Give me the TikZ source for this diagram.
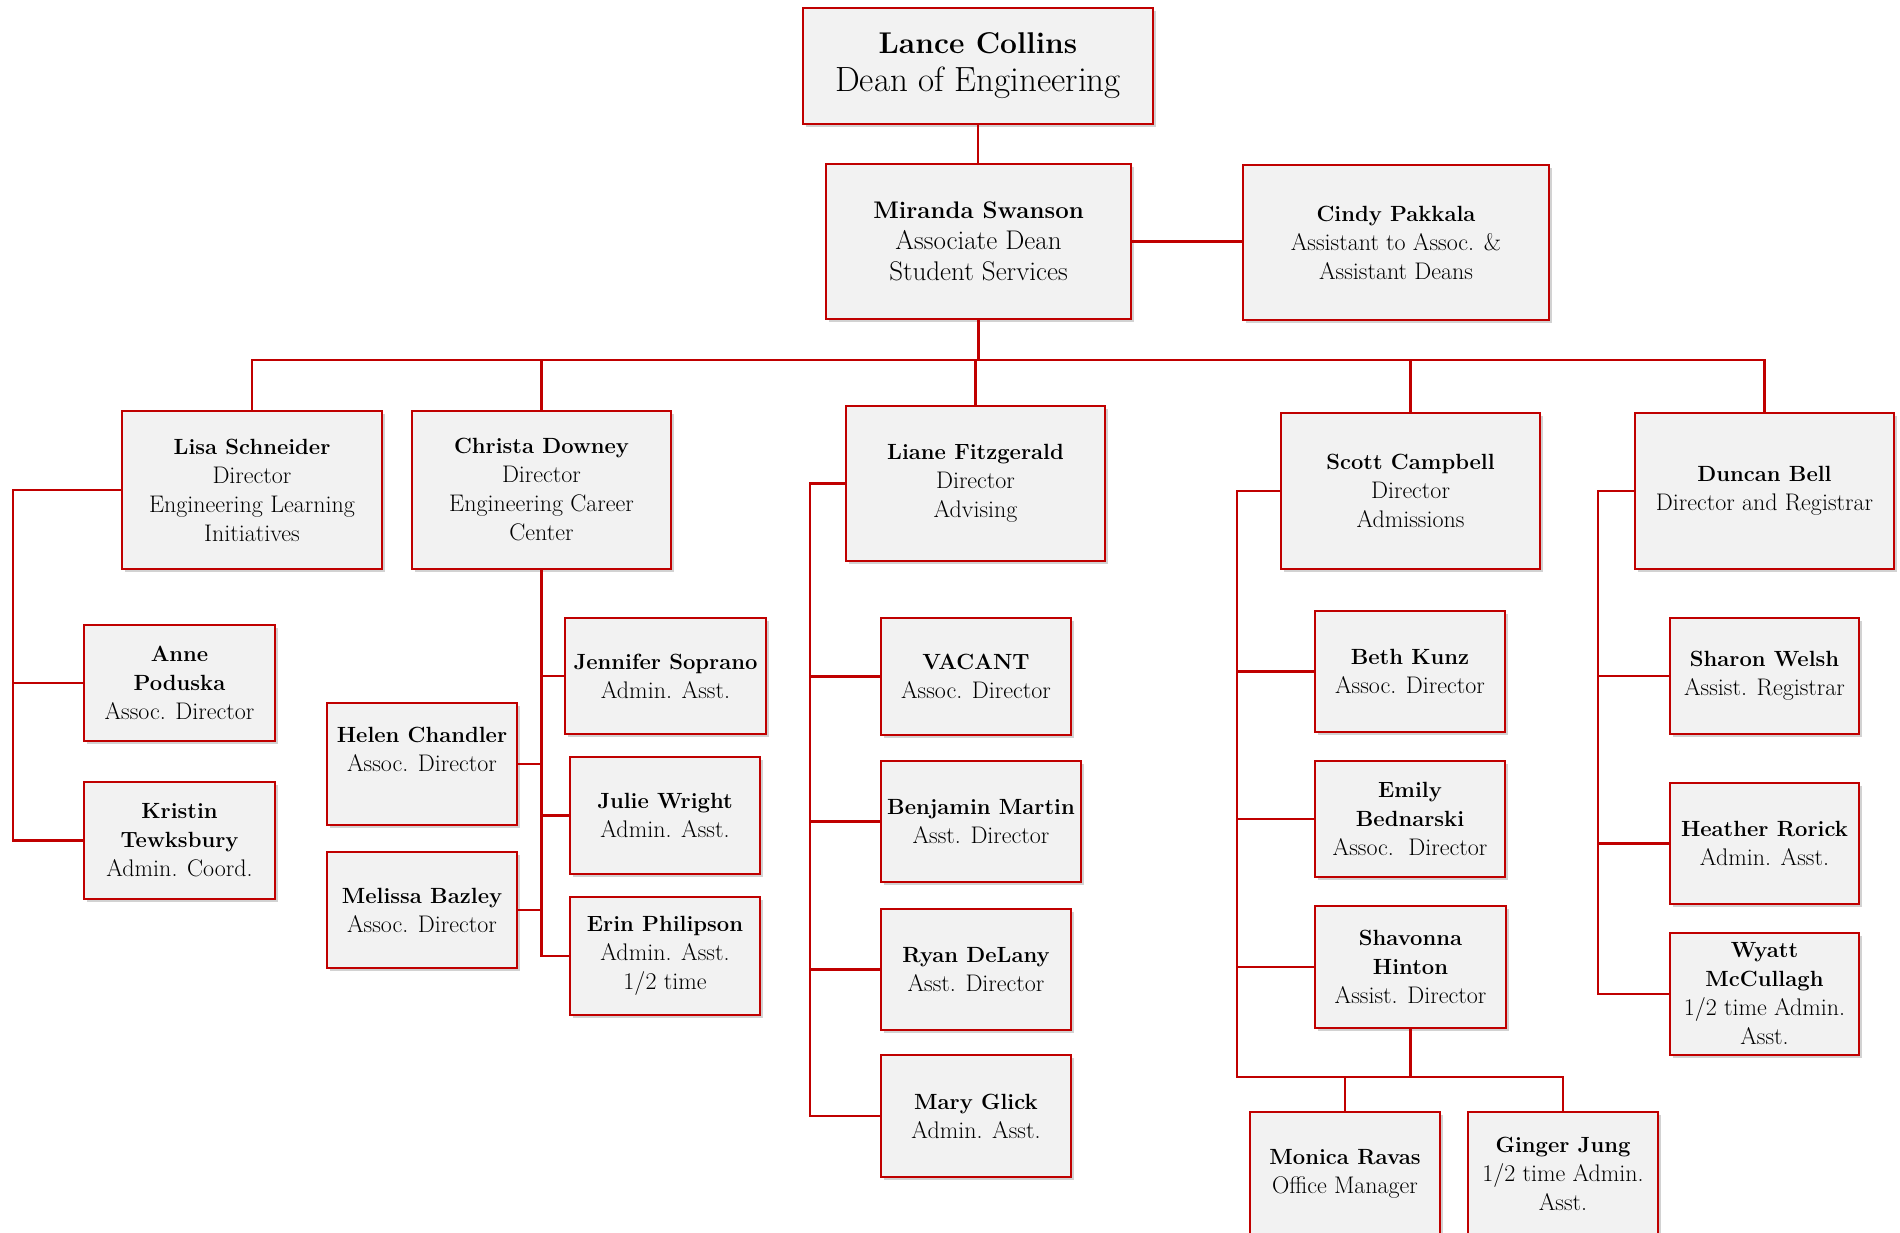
\documentclass[tikz,border=0pt]{standalone}
\usepackage{xcolor}
\usepackage{tikz}
\usetikzlibrary{shadows,calc}
\definecolor{orgred}{HTML}{C00000}
\definecolor{orgfill}{HTML}{F2F2F2}
\newcommand{\who}[2][22]{{\fontsize{#1}{29}\selectfont\bfseries #2}}

\begin{document}
\begin{tikzpicture}[x=1pt,y=-1pt,
  staff/.style={draw=orgred, line width=2.2pt, fill=orgfill, align=center, inner sep=2pt,
    drop shadow={shadow xshift=2.5pt, shadow yshift=-3pt, fill=black!35, opacity=0.5},
    font=\fontsize{24}{29}\selectfont},
  link/.style={draw=orgred, line width=2.2pt}]
\useasboundingbox (0,0) rectangle (1900,1232);

\node[staff, minimum width=350pt, minimum height=116pt, font=\fontsize{35}{38}\selectfont] (collins) at (978,66)
  {\who[30]{Lance Collins}\\Dean of Engineering};
\node[staff, minimum width=305pt, minimum height=155pt, font=\fontsize{27}{31}\selectfont] (swanson) at (978.5,241.5)
  {\who[24]{Miranda Swanson}\\Associate Dean\\Student Services};
\node[staff, minimum width=306pt, minimum height=155pt] (pakkala) at (1396,242.5)
  {\who{Cindy Pakkala}\\Assistant to Assoc. \&\\Assistant Deans};

\node[staff, minimum width=260pt, minimum height=158pt] (schneider) at (252,490)
  {\who{Lisa Schneider}\\Director\\Engineering Learning\\Initiatives};
\node[staff, minimum width=259pt, minimum height=158pt] (downey) at (541.5,490)
  {\who{Christa Downey}\\Director\\Engineering Career\\Center};
\node[staff, minimum width=259pt, minimum height=155pt] (fitzgerald) at (975.5,483.5)
  {\who{Liane Fitzgerald}\\Director\\Advising};
\node[staff, minimum width=259pt, minimum height=156pt] (campbell) at (1410.5,491)
  {\who{Scott Campbell}\\Director\\Admissions};
\node[staff, minimum width=259pt, minimum height=156pt] (bell) at (1764.5,491)
  {\who{Duncan Bell}\\Director and Registrar};

\node[staff, minimum width=191pt, minimum height=116pt] (poduska) at (179.5,683)
  {\who{Anne}\\\who{Poduska}\\Assoc. Director};
\node[staff, minimum width=191pt, minimum height=117pt] (tewksbury) at (179.5,840.5)
  {\who{Kristin}\\\who{Tewksbury}\\Admin. Coord.};

\node[staff, minimum width=201pt, minimum height=116pt] (soprano) at (665.5,676)
  {\who{Jennifer Soprano}\\Admin. Asst.};
\node[staff, minimum width=190pt, minimum height=117pt] (wright) at (665,815.5)
  {\who{Julie Wright}\\Admin. Asst.};
\node[staff, minimum width=190pt, minimum height=118pt] (philipson) at (665,956)
  {\who{Erin Philipson}\\Admin. Asst.\\1/2 time};
\node[staff, minimum width=190pt, minimum height=122pt] (chandler) at (422,764)
  {\who{Helen Chandler}\\Assoc. Director\\[0pt]};
\node[staff, minimum width=190pt, minimum height=116pt] (bazley) at (422,910)
  {\who{Melissa Bazley}\\Assoc. Director};

\node[staff, minimum width=190pt, minimum height=117pt] (vacant) at (976,676.5)
  {\who{VACANT}\\Assoc. Director};
\node[staff, minimum width=200pt, minimum height=121pt] (martin) at (981,821.5)
  {\who{Benjamin Martin}\\Asst. Director};
\node[staff, minimum width=190pt, minimum height=121pt] (delany) at (976,969.5)
  {\who{Ryan DeLany}\\Asst. Director};
\node[staff, minimum width=190pt, minimum height=122pt] (glick) at (976,1116)
  {\who{Mary Glick}\\Admin. Asst.};

\node[staff, minimum width=190pt, minimum height=121pt] (kunz) at (1410,671.5)
  {\who{Beth Kunz}\\Assoc. Director};
\node[staff, minimum width=190pt, minimum height=116pt] (bednarski) at (1410,819)
  {\who{Emily}\\\who{Bednarski}\\Assoc.\ \ Director};
\node[staff, minimum width=191pt, minimum height=122pt] (hinton) at (1410.5,967)
  {\who{Shavonna}\\\who{Hinton}\\Assist. Director};
\node[staff, minimum width=190pt, minimum height=124pt] (ravas) at (1345,1174)
  {\who{Monica Ravas}\\Office Manager};
\node[staff, minimum width=190pt, minimum height=124pt] (jung) at (1563,1174)
  {\who{Ginger Jung}\\1/2 time Admin.\\Asst.};

\node[staff, minimum width=189pt, minimum height=116pt] (welsh) at (1764.5,676)
  {\who{Sharon Welsh}\\Assist. Registrar};
\node[staff, minimum width=189pt, minimum height=121pt] (rorick) at (1764.5,843.5)
  {\who{Heather Rorick}\\Admin. Asst.};
\node[staff, minimum width=189pt, minimum height=122pt] (mccullagh) at (1764.5,994)
  {\who{Wyatt}\\\who{McCullagh}\\1/2 time Admin.\\Asst.};

\coordinate (bus) at ($(swanson.south)+(0,40)$);
\coordinate (schneiderspine) at ($(schneider.west)-(108,0)$);
\coordinate (fitzgeraldspine) at ($(fitzgerald.west)-(35,0)$);
\coordinate (campbellspine) at ($(campbell.west)-(43,0)$);
\coordinate (bellspine) at ($(bell.west)-(36,0)$);
\coordinate (hintonbus) at ($(hinton.south)+(0,48)$);

\draw[link] (collins.south) -- (collins.south |- swanson.north);
\draw[link] (swanson.east) -- (swanson.east -| pakkala.west);
\draw[link] (swanson.south) -- (bus);
\draw[link] (schneider.north) |- (bus);
\draw[link] (downey.north) |- (bus);
\draw[link] (fitzgerald.north) |- (bus);
\draw[link] (campbell.north) |- (bus);
\draw[link] (bell.north) |- (bus);

\draw[link] (schneider.west) -- (schneiderspine) |- (tewksbury.west);
\draw[link] (schneiderspine) |- (poduska.west);

\draw[link] (downey.south) |- (philipson.west);
\draw[link] (downey.south) |- (wright.west);
\draw[link] (downey.south) |- (soprano.west);
\draw[link] (chandler.east) -- (chandler.east -| downey.south);
\draw[link] (bazley.east) -- (bazley.east -| downey.south);

\draw[link] (fitzgerald.west) -- (fitzgeraldspine) |- (glick.west);
\draw[link] (fitzgeraldspine) |- (vacant.west);
\draw[link] (fitzgeraldspine) |- (martin.west);
\draw[link] (fitzgeraldspine) |- (delany.west);

\draw[link] (campbell.west) -- (campbellspine) |- (hintonbus);
\draw[link] (campbellspine) |- (kunz.west);
\draw[link] (campbellspine) |- (bednarski.west);
\draw[link] (campbellspine) |- (hinton.west);
\draw[link] (hinton.south) -- (hintonbus);
\draw[link] (ravas.north) |- (hintonbus);
\draw[link] (jung.north) |- (hintonbus);

\draw[link] (bell.west) -- (bellspine) |- (mccullagh.west);
\draw[link] (bellspine) |- (welsh.west);
\draw[link] (bellspine) |- (rorick.west);
\end{tikzpicture}
\end{document}
